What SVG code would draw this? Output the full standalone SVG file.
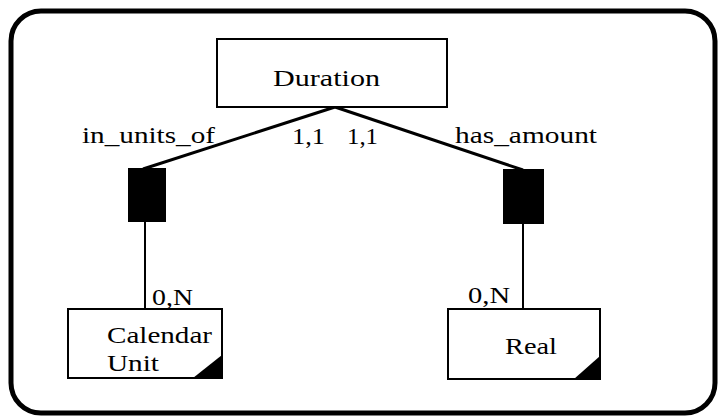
<svg xmlns="http://www.w3.org/2000/svg" width="720" height="419" viewBox="0 0 720 419">
<style>
.t{font-family:"Liberation Serif","Times New Roman",serif;font-size:23px;fill:#000}
.box{fill:#fff;stroke:#000;stroke-width:2}
.rel{fill:#000}
.ln{stroke:#000;fill:none}
</style>
<rect x="0" y="0" width="720" height="419" fill="#fff"/>
<rect id="frame" x="11" y="11" width="704" height="402" rx="30" ry="30" fill="none" stroke="#000" stroke-width="5"/>
<g id="connectors">
<line class="ln" x1="335" y1="107" x2="143" y2="169" stroke-width="3"/>
<line class="ln" x1="335" y1="107" x2="523" y2="170" stroke-width="3"/>
<line class="ln" x1="145" y1="222" x2="145" y2="309" stroke-width="2"/>
<line class="ln" x1="523" y1="224" x2="523" y2="309" stroke-width="2"/>
<text class="t" x="82" y="143" textLength="133" lengthAdjust="spacingAndGlyphs">in_units_of</text>
<text class="t" x="292" y="144" textLength="33" lengthAdjust="spacingAndGlyphs">1,1</text>
<text class="t" x="347" y="144" textLength="31" lengthAdjust="spacingAndGlyphs">1,1</text>
<text class="t" x="455" y="143" textLength="142" lengthAdjust="spacingAndGlyphs">has_amount</text>
<text class="t" x="152" y="305" textLength="41" lengthAdjust="spacingAndGlyphs">0,N</text>
<text class="t" x="468" y="303" textLength="42" lengthAdjust="spacingAndGlyphs">0,N</text>
</g>
<g id="duration">
<rect class="box" x="217" y="39" width="230" height="68"/>
<text class="t" x="273" y="86" textLength="107" lengthAdjust="spacingAndGlyphs">Duration</text>
</g>
<g id="rel-in_units_of">
<rect class="rel" x="128" y="168" width="38" height="54"/>
</g>
<g id="rel-has_amount">
<rect class="rel" x="503" y="169" width="41" height="55"/>
</g>
<g id="calendar-unit">
<rect class="box" x="68" y="309" width="154" height="69"/>
<polygon class="rel" points="193,378 222,378 222,355"/>
<text class="t" x="107" y="343" textLength="105" lengthAdjust="spacingAndGlyphs">Calendar</text>
<text class="t" x="107" y="371" textLength="52" lengthAdjust="spacingAndGlyphs">Unit</text>
</g>
<g id="real">
<rect class="box" x="448" y="309" width="152" height="70"/>
<polygon class="rel" points="574,379 600,379 600,356"/>
<text class="t" x="505" y="354" textLength="52" lengthAdjust="spacingAndGlyphs">Real</text>
</g>
</svg>
